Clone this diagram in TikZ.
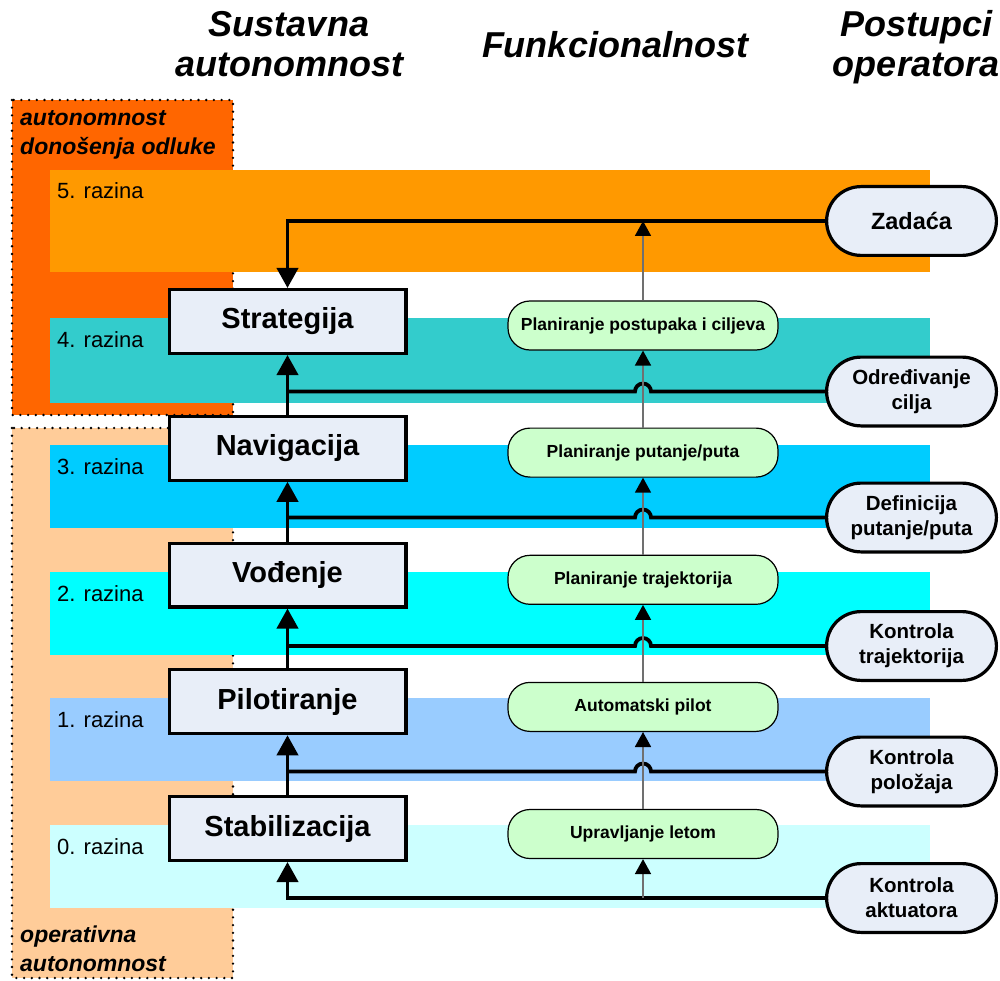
\documentclass[tikz,border=0pt]{standalone}
\usepackage{fontspec}
\setmainfont{Liberation Sans}
\usetikzlibrary{arrows.meta,shapes.misc}
\definecolor{uavDecision}{HTML}{FF6600}
\definecolor{uavOperative}{HTML}{FFCC99}
\definecolor{uavLevelV}{HTML}{FF9900}
\definecolor{uavLevelIV}{HTML}{33CCCC}
\definecolor{uavLevelIII}{HTML}{00CCFF}
\definecolor{uavLevelII}{HTML}{00FFFF}
\definecolor{uavLevelI}{HTML}{99CCFF}
\definecolor{uavLevelO}{HTML}{CCFFFF}
\definecolor{uavBox}{HTML}{E8EEF8}
\definecolor{uavFunc}{HTML}{CCFFCC}
\definecolor{uavWire}{HTML}{707070}

\tikzset{
    head/.style={font=\bfseries\itshape\fontsize{36}{40}\selectfont, align=center, anchor=base, inner sep=0pt},
    zone/.style={line width=2.6pt, dash pattern=on 0pt off 7.7pt, line cap=round},
    zonetext/.style={font=\bfseries\itshape\fontsize{23}{29}\selectfont, align=left, anchor=base west, inner sep=0pt},
    levtext/.style={font=\fontsize{22}{26}\selectfont, anchor=base west, inner sep=0pt},
    sysbox/.style={draw, line width=3.2pt, fill=uavBox, minimum width=236.8pt, minimum height=63.8pt, inner sep=0pt, font=\bfseries\fontsize{29}{34}\selectfont},
    funcbox/.style={draw, line width=1.2pt, fill=uavFunc, rounded corners=22pt, minimum width=270pt, minimum height=49pt, inner sep=0pt, font=\bfseries\fontsize{17.5}{21}\selectfont},
    opbox/.style={draw, line width=3.2pt, fill=uavBox, rounded rectangle, minimum width=169.8pt, minimum height=68.8pt, inner sep=0pt, align=center, font=\bfseries\fontsize{20.5}{25}\selectfont},
    feed/.style={line width=3.8pt},
    feedtip/.style={-{Triangle[width=21pt,length=20pt]}},
    flow/.style={uavWire, line width=1.8pt, -{Triangle[width=16pt,length=15pt,color=black]}},
}

\begin{document}
\begin{tikzpicture}[x=1pt, y=1pt]
    \fill[white] (0,0) rectangle (1000,-981);
    \useasboundingbox (0,0) rectangle (1000,-981);

    % autonomy zones
    \fill[uavDecision] (12,-100) rectangle (233,-415);
    \draw[zone] (12,-100) rectangle (233,-415);
    \fill[uavOperative] (12,-428) rectangle (233,-978);
    \draw[zone] (12,-428) rectangle (233,-978);
    \node[zonetext] (zDec) at (20,-155) {autonomnost\\donošenja odluke};
    \node[zonetext] (zOper) at (20,-971) {operativna\\autonomnost};

    % levels
    \foreach \ya/\yb/\col/\num in {170/272/uavLevelV/5, 318/403/uavLevelIV/4, 445/528/uavLevelIII/3, 572/655/uavLevelII/2, 698/781/uavLevelI/1, 825/908/uavLevelO/0} {
        \fill[\col] (50,-\ya) rectangle (930,-\yb);
        \node[levtext] (lev\num) at (57,-\ya-29) {\num. razina};
    }

    % headings
    \node[head] (hSys) at (289,-77) {Sustavna\\autonomnost};
    \node[head] (hFunc) at (615,-58) {Funkcionalnost};
    \node[head] (hOper) at (916,-77) {Postupci\\operatora};

    % system autonomy
    \node[sysbox] (strat) at (287.5,-321.5) {Strategija};
    \node[sysbox] (navig) at (287.5,-448.25) {Navigacija};
    \node[sysbox] (vodj) at (287.5,-575) {Vođenje};
    \node[sysbox] (pilot) at (287.5,-701.75) {Pilotiranje};
    \node[sysbox] (stab) at (287.5,-828.5) {Stabilizacija};

    % functions
    \node[funcbox] (fCilj) at (643,-325.5) {Planiranje postupaka i ciljeva};
    \node[funcbox] (fPut) at (643,-452.6) {Planiranje putanje/puta};
    \node[funcbox] (fTraj) at (643,-579.8) {Planiranje trajektorija};
    \node[funcbox] (fPilot) at (643,-706.9) {Automatski pilot};
    \node[funcbox] (fLet) at (643,-834) {Upravljanje letom};

    % operator actions
    \node[opbox] (oZad) at (911.5,-221) {\fontsize{23.5}{28}\selectfont Zadaća};
    \node[opbox] (oCilj) at (911.5,-391.5) {Određivanje\\cilja};
    \node[opbox] (oPut) at (911.5,-517.5) {Definicija\\putanje/puta};
    \node[opbox] (oTraj) at (911.5,-646) {Kontrola\\trajektorija};
    \node[opbox] (oPol) at (911.5,-771.5) {Kontrola\\položaja};
    \node[opbox] (oAkt) at (911.5,-898) {Kontrola\\aktuatora};

    % feedback lines
    \draw[feed, feedtip] (oZad.west) -| (strat.north);
    \draw[feed, feedtip] (navig.north) -- (strat.south);
    \draw[feed, feedtip] (vodj.north) -- (navig.south);
    \draw[feed, feedtip] (pilot.north) -- (vodj.south);
    \draw[feed, feedtip] (stab.north) -- (pilot.south);
    \draw[feed, feedtip] (oAkt.west) -| (stab.south);
    \foreach \op/\fn/\sy in {oCilj/fPut/navig, oPut/fTraj/vodj, oTraj/fPilot/pilot, oPol/fLet/stab}
        \draw[feed] (\op.west) -- ([xshift=8pt]\op.west -| \fn.north) arc[start angle=0, end angle=180, radius=8pt] -- (\op.west -| \sy.north);

    % function flow
    \draw[flow] (fCilj.north) -- (fCilj.north |- oZad.west);
    \draw[flow] (fPut.north) -- (fCilj.south);
    \draw[flow] (fTraj.north) -- (fPut.south);
    \draw[flow] (fPilot.north) -- (fTraj.south);
    \draw[flow] (fLet.north) -- (fPilot.south);
    \draw[flow] (fLet.south |- oAkt.west) -- (fLet.south);
\end{tikzpicture}
\end{document}
